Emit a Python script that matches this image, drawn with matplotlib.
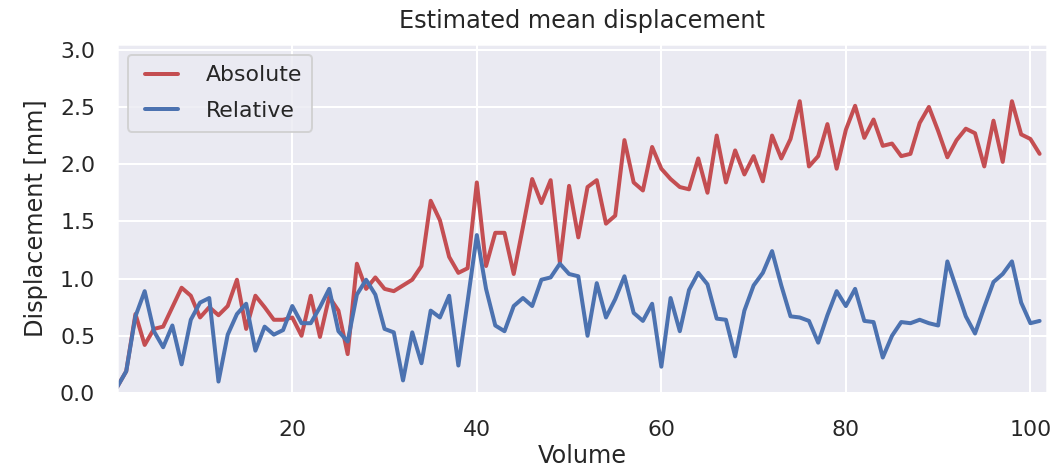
import matplotlib
matplotlib.use("Agg")
import matplotlib.pyplot as plt
import seaborn as sns
import numpy as np

volumes = list(range(1, 102))
absolute = [0.05, 0.19, 0.69, 0.42, 0.56, 0.58, 0.75, 0.92, 0.85, 0.66,
            0.75, 0.68, 0.76, 0.99, 0.56, 0.85, 0.75, 0.64, 0.64, 0.66,
            0.50, 0.85, 0.49, 0.84, 0.72, 0.34, 1.13, 0.91, 1.01, 0.91,
            0.89, 0.94, 0.99, 1.11, 1.68, 1.51, 1.19, 1.05, 1.09, 1.84,
            1.11, 1.40, 1.40, 1.04, 1.45, 1.87, 1.66, 1.86, 1.14, 1.81,
            1.36, 1.80, 1.86, 1.48, 1.55, 2.21, 1.84, 1.77, 2.15, 1.96,
            1.87, 1.80, 1.78, 2.05, 1.75, 2.25, 1.84, 2.12, 1.91, 2.07,
            1.85, 2.25, 2.05, 2.22, 2.55, 1.98, 2.07, 2.35, 1.96, 2.30,
            2.51, 2.23, 2.39, 2.16, 2.18, 2.07, 2.09, 2.36, 2.50, 2.29,
            2.06, 2.21, 2.31, 2.27, 1.98, 2.38, 2.02, 2.55, 2.26, 2.22,
            2.09]
relative = [0.05, 0.19, 0.67, 0.89, 0.54, 0.40, 0.59, 0.25, 0.64, 0.79,
            0.83, 0.10, 0.51, 0.69, 0.78, 0.37, 0.58, 0.51, 0.55, 0.76,
            0.61, 0.61, 0.75, 0.91, 0.54, 0.45, 0.86, 0.99, 0.86, 0.56,
            0.53, 0.11, 0.53, 0.26, 0.72, 0.66, 0.85, 0.24, 0.80, 1.38,
            0.91, 0.59, 0.54, 0.76, 0.83, 0.76, 0.99, 1.01, 1.13, 1.04,
            1.02, 0.50, 0.96, 0.66, 0.82, 1.02, 0.70, 0.63, 0.78, 0.23,
            0.83, 0.54, 0.90, 1.05, 0.95, 0.65, 0.64, 0.32, 0.72, 0.94,
            1.05, 1.24, 0.94, 0.67, 0.66, 0.63, 0.44, 0.68, 0.89, 0.76,
            0.91, 0.63, 0.62, 0.31, 0.50, 0.62, 0.61, 0.64, 0.61, 0.59,
            1.15, 0.91, 0.67, 0.52, 0.75, 0.97, 1.04, 1.15, 0.79, 0.61,
            0.63]

sns.set_theme(context="notebook", style="darkgrid")
sns.set_color_codes("deep")

fig = plt.figure(figsize=(1056 / 144, 470 / 144), dpi=144)
ax = fig.add_axes([117 / 1056, 1 - 393 / 470, (1047 - 117) / 1056, (393 - 44) / 470])

ax.plot(volumes, absolute, color="r", lw=2, label="Absolute")
ax.plot(volumes, relative, color="b", lw=2, label="Relative")

ax.set_xlim(1, 101.8)
ax.set_ylim(0, 3.05)
ax.set_yticks([0.0, 0.5, 1.0, 1.5, 2.0, 2.5, 3.0])
ax.set_xticks([20, 40, 60, 80, 100])

xpad = plt.rcParams["xtick.major.pad"]
ypad = plt.rcParams["ytick.major.pad"]
ax.tick_params(axis="x", pad=xpad + 4)
ax.tick_params(axis="y", pad=ypad + 1.5)

lp = plt.rcParams["axes.labelpad"]
ax.set_xlabel("Volume", labelpad=lp - 2)
ax.set_ylabel("Displacement [mm]", labelpad=lp + 2)
ax.set_title("Estimated mean displacement", pad=plt.rcParams["axes.titlepad"] + 2)
ax.legend(loc="upper left", numpoints=2, borderpad=0.47, labelspacing=0.72,
          handlelength=2.1, handletextpad=0.95)

fig.savefig("out.png", dpi=144)
